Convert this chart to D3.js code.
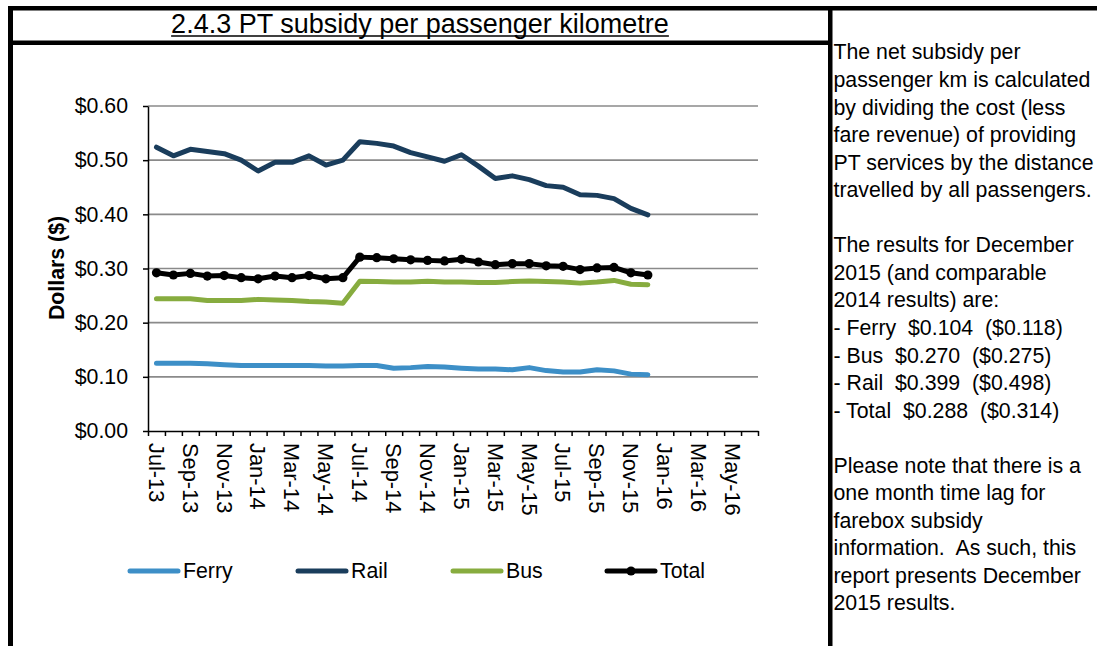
<!DOCTYPE html>
<html>
<head>
<meta charset="utf-8">
<script src="https://cdn.jsdelivr.net/npm/d3@7"></script>
<style>
  html, body { margin: 0; padding: 0; background: #fff; overflow: hidden; }
  svg { display: block; font-family: "Liberation Sans", Arial, sans-serif; }
  .pre { white-space: pre; }
</style>
</head>
<body>
<svg id="chart" width="1097" height="646"></svg>
<script>
// Monthly categories on the x axis (Jul-13 .. Jun-16)
const months = [
  "Jul-13","Aug-13","Sep-13","Oct-13","Nov-13","Dec-13",
  "Jan-14","Feb-14","Mar-14","Apr-14","May-14","Jun-14",
  "Jul-14","Aug-14","Sep-14","Oct-14","Nov-14","Dec-14",
  "Jan-15","Feb-15","Mar-15","Apr-15","May-15","Jun-15",
  "Jul-15","Aug-15","Sep-15","Oct-15","Nov-15","Dec-15",
  "Jan-16","Feb-16","Mar-16","Apr-16","May-16","Jun-16"
];
// Labelled months (every second month)
const monthLabels = [
  "Jul-13","Sep-13","Nov-13","Jan-14","Mar-14","May-14",
  "Jul-14","Sep-14","Nov-14","Jan-15","Mar-15","May-15",
  "Jul-15","Sep-15","Nov-15","Jan-16","Mar-16","May-16"
];

// Net subsidy per passenger km ($), Jul-13 .. Dec-15
const ferry = [0.125, 0.125, 0.125, 0.124, 0.1225, 0.121, 0.121, 0.121, 0.121, 0.121, 0.120, 0.120,
               0.121, 0.121, 0.116, 0.117, 0.119, 0.118, 0.116, 0.1145, 0.1145, 0.113, 0.117, 0.1115,
               0.109, 0.109, 0.113, 0.111, 0.105, 0.104];
const rail  = [0.524, 0.508, 0.520, 0.516, 0.512, 0.500, 0.480, 0.496, 0.496, 0.508, 0.491, 0.500,
               0.534, 0.531, 0.526, 0.514, 0.506, 0.498, 0.510, 0.489, 0.466, 0.471, 0.464, 0.453,
               0.450, 0.436, 0.435, 0.429, 0.411, 0.399];
const bus   = [0.244, 0.244, 0.244, 0.241, 0.241, 0.241, 0.243, 0.242, 0.241, 0.239, 0.238, 0.236,
               0.2765, 0.276, 0.275, 0.275, 0.2765, 0.275, 0.275, 0.274, 0.274, 0.276, 0.277, 0.276,
               0.275, 0.273, 0.275, 0.278, 0.271, 0.270];
const total = [0.292, 0.288, 0.291, 0.286, 0.287, 0.283, 0.281, 0.286, 0.283, 0.287, 0.281, 0.283,
               0.321, 0.320, 0.318, 0.316, 0.315, 0.314, 0.317, 0.312, 0.307, 0.309, 0.309, 0.305,
               0.304, 0.298, 0.301, 0.302, 0.292, 0.288];

const yTicks = [0, 0.1, 0.2, 0.3, 0.4, 0.5, 0.6];

const seriesNames  = ["Ferry", "Rail", "Bus", "Total"];
const seriesColors = ["#3d8fc7", "#1a3d5c", "#87ac3f", "#000000"];

const titleText = "2.4.3 PT subsidy per passenger kilometre";
const panelLines = [
  "The net subsidy per",
  "passenger km is calculated",
  "by dividing the cost (less",
  "fare revenue) of providing",
  "PT services by the distance",
  "travelled by all passengers.",
  "",
  "The results for December",
  "2015 (and comparable",
  "2014 results) are:",
  "- Ferry  $0.104  ($0.118)",
  "- Bus  $0.270  ($0.275)",
  "- Rail  $0.399  ($0.498)",
  "- Total  $0.288  ($0.314)",
  "",
  "Please note that there is a",
  "one month time lag for",
  "farebox subsidy",
  "information.  As such, this",
  "report presents December",
  "2015 results."
];

const W = 1097, H = 646;
const FONT = 21.3;
const svg = d3.select("#chart");

// ---- Page frame ----
const frame = svg.append("g").attr("fill", "#000");
frame.append("rect").attr("x", 8).attr("y", 6).attr("width", W - 8).attr("height", 4.5);
frame.append("rect").attr("x", 8).attr("y", 6).attr("width", 5).attr("height", H - 6);
frame.append("rect").attr("x", 8).attr("y", 40.5).attr("width", 822).attr("height", 4.5);
frame.append("rect").attr("x", 828).attr("y", 6).attr("width", 4.5).attr("height", H - 6);

// ---- Title (underlined) ----
const title = svg.append("text")
  .attr("x", 420).attr("y", 33)
  .attr("text-anchor", "middle")
  .attr("font-size", 27)
  .attr("fill", "#000")
  .text(titleText);
const tw = title.node().getComputedTextLength();
svg.append("line")
  .attr("x1", 420 - tw / 2).attr("x2", 420 + tw / 2)
  .attr("y1", 36).attr("y2", 36)
  .attr("stroke", "#000").attr("stroke-width", 1.6);

// ---- Scales ----
const x = d3.scaleBand().domain(months).range([148, 758]);
const xEdge = d3.scaleLinear().domain([0, months.length]).range([148, 758]);
const y = d3.scaleLinear().domain([0, 0.6]).range([431, 106]);
const cx = m => x(m) + x.bandwidth() / 2;

// ---- Gridlines ----
svg.append("g")
  .selectAll("line")
  .data(yTicks.filter(t => t > 0))
  .join("line")
  .attr("x1", 148).attr("x2", 758)
  .attr("y1", d => y(d)).attr("y2", d => y(d))
  .attr("stroke", "#8a8a8a").attr("stroke-width", 1.6);

// ---- Y axis ----
const yAxis = svg.append("g")
  .attr("transform", "translate(148,0)")
  .call(d3.axisLeft(y).tickValues(yTicks).tickSize(5).tickSizeOuter(0)
        .tickPadding(15).tickFormat(d3.format("$.2f")));
yAxis.select(".domain").attr("stroke", "#000").attr("stroke-width", 1.5);
yAxis.selectAll(".tick line").attr("stroke", "#000").attr("stroke-width", 1.5);
yAxis.selectAll(".tick text")
  .attr("font-family", "Liberation Sans, Arial, sans-serif")
  .attr("font-size", FONT).attr("fill", "#000");

svg.append("text")
  .attr("transform", "translate(57,268) rotate(-90)")
  .attr("text-anchor", "middle")
  .attr("dy", "0.35em")
  .attr("font-size", FONT)
  .attr("font-weight", "bold")
  .attr("fill", "#000")
  .text("Dollars ($)");

// ---- X axis: tick marks on category boundaries ----
const xTicks = svg.append("g")
  .attr("transform", "translate(0,431)")
  .call(d3.axisBottom(xEdge).tickValues(d3.range(months.length + 1))
        .tickSize(5).tickSizeOuter(0).tickFormat(""));
xTicks.select(".domain").attr("stroke", "#000").attr("stroke-width", 1.5);
xTicks.selectAll(".tick line").attr("stroke", "#000").attr("stroke-width", 1.5);

// ---- X axis: rotated month labels ----
const xLabels = svg.append("g")
  .attr("transform", "translate(0,431)")
  .call(d3.axisBottom(x).tickValues(monthLabels).tickSize(0));
xLabels.select(".domain").remove();
xLabels.selectAll(".tick text")
  .attr("font-family", "Liberation Sans, Arial, sans-serif")
  .attr("font-size", 21.8).attr("fill", "#000")
  .attr("transform", "rotate(90)")
  .attr("x", 12).attr("y", 0).attr("dy", "0.35em")
  .attr("text-anchor", "start");

// ---- Series lines ----
const seriesData = [ferry, rail, bus, total];
const line = d3.line()
  .x((d, i) => cx(months[i]))
  .y(d => y(d));

seriesData.forEach((vals, s) => {
  svg.append("path")
    .datum(vals)
    .attr("d", line)
    .attr("fill", "none")
    .attr("stroke", seriesColors[s])
    .attr("stroke-width", 5)
    .attr("stroke-linejoin", "round")
    .attr("stroke-linecap", "round");
});

// Markers on the total series
svg.append("g")
  .selectAll("circle")
  .data(total)
  .join("circle")
  .attr("cx", (d, i) => cx(months[i]))
  .attr("cy", d => y(d))
  .attr("r", 4.6)
  .attr("fill", "#000");

// ---- Legend ----
const legendX = [130, 298, 453, 607];
const legend = svg.append("g").attr("transform", "translate(0,571)");
seriesNames.forEach((name, i) => {
  const g = legend.append("g").attr("transform", `translate(${legendX[i]},0)`);
  g.append("line")
    .attr("x1", 0).attr("x2", 48).attr("y1", 0).attr("y2", 0)
    .attr("stroke", seriesColors[i]).attr("stroke-width", 5)
    .attr("stroke-linecap", "round");
  if (name === "Total") {
    g.append("circle").attr("cx", 24).attr("cy", 0).attr("r", 4.6).attr("fill", "#000");
  }
  g.append("text")
    .attr("x", 53).attr("y", 0).attr("dy", "0.35em")
    .attr("font-size", FONT).attr("fill", "#000")
    .text(name);
});

// ---- Commentary panel ----
svg.append("g")
  .selectAll("text")
  .data(panelLines)
  .join("text")
  .attr("class", "pre")
  .attr("x", 833.5)
  .attr("y", (d, i) => 52 + 27.55 * i)
  .attr("dy", "0.35em")
  .attr("font-size", FONT)
  .attr("fill", "#000")
  .text(d => d);
</script>
</body>
</html>
